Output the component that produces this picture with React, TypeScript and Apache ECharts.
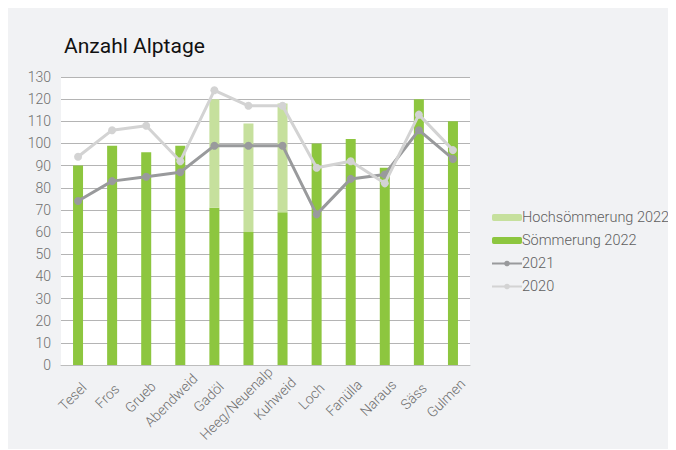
import React, { useEffect, useRef } from "react";
import * as echarts from "echarts";

const categories = ["Tesel", "Fros", "Grueb", "Abendweid", "Gadöl", "Heeg/Neuenalp", "Kuhweid", "Loch", "Fanülla", "Naraus", "Säss", "Gulmen"];
const soemmerung2022 = [90, 99, 96, 99, 71, 60, 69, 100, 102, 89, 120, 110];
const hochsoemmerung2022 = [null, null, null, null, 49, 49, 49, null, null, null, null, null];
const values2021 = [74, 83, 85, 87, 99, 99, 99, 68, 84, 86, 106, 93];
const values2020 = [94, 106, 108, 92, 124, 117, 117, 89, 92, 82, 113, 97];
const yTicks = { min: 0, max: 130, interval: 10 };

export default function App() {
  const ref = useRef<HTMLDivElement>(null);
  useEffect(() => {
    document.documentElement.style.overflow = "hidden";
    const chart = echarts.init(ref.current!, null, { renderer: "svg" });
    const font = "Roboto";
    const labelFont = "300 14px Roboto";
    const ctx = document.createElement("canvas").getContext("2d")!;
    ctx.font = labelFont;
    const axisData = categories.map((c) => {
      const w = ctx.measureText(c).width;
      return { value: c, textStyle: { padding: [0, -(0.35 * w - 3), 0, 0] } };
    });
    chart.setOption({
      animation: false,
      backgroundColor: "#f1f2f4",
      textStyle: { fontFamily: font },
      title: {
        text: "Anzahl Alptage",
        left: 51,
        top: 22,
        textStyle: { fontFamily: font, fontSize: 21, fontWeight: "normal", color: "#111" },
      },
      legend: {
        orient: "vertical",
        left: 478,
        top: 197,
        itemWidth: 30,
        itemHeight: 7,
        itemGap: 8,
        textStyle: { fontFamily: font, fontSize: 14.5, fontWeight: 300, color: "#5f5f5f", padding: [0, 0, 0, -5] },
        data: ["Hochsömmerung 2022", "Sömmerung 2022", "2021", "2020"],
      },
      grid: {
        left: 53,
        right: 206,
        top: 69,
        bottom: 84,
        show: true,
        backgroundColor: "#ffffff",
        borderWidth: 0,
      },
      xAxis: {
        type: "category",
        data: axisData,
        axisLine: { show: true, lineStyle: { color: "#bdbdbd", width: 1 } },
        axisTick: { show: false },
        axisLabel: { interval: 0, rotate: 45, fontSize: 14, fontWeight: 300, color: "#6f6f6f", fontFamily: font, margin: 26 },
      },
      yAxis: {
        type: "value",
        min: yTicks.min,
        max: yTicks.max,
        interval: yTicks.interval,
        axisLine: { show: false },
        axisTick: { show: false },
        axisLabel: { fontSize: 14, fontWeight: 300, color: "#6f6f6f", fontFamily: font, margin: 10 },
        splitLine: { lineStyle: { color: "#b4b4b4", width: 1 } },
      },
      series: [
        {
          name: "Sömmerung 2022",
          type: "bar",
          stack: "s",
          data: soemmerung2022,
          barWidth: 10,
          itemStyle: { color: "#8dc63f" },
        },
        {
          name: "Hochsömmerung 2022",
          type: "bar",
          stack: "s",
          data: hochsoemmerung2022,
          barWidth: 10,
          itemStyle: { color: "#c6e09d" },
        },
        {
          name: "2021",
          type: "line",
          data: values2021,
          symbol: "circle",
          symbolSize: 8,
          lineStyle: { color: "#999a9c", width: 3 },
          itemStyle: { color: "#999a9c" },
          z: 3,
        },
        {
          name: "2020",
          type: "line",
          data: values2020,
          symbol: "circle",
          symbolSize: 8,
          lineStyle: { color: "#d3d3d3", width: 3 },
          itemStyle: { color: "#d3d3d3" },
          z: 4,
        },
      ],
    });
    return () => chart.dispose();
  }, []);
  return <div ref={ref} style={{ width: 668, height: 441 }} />;
}
